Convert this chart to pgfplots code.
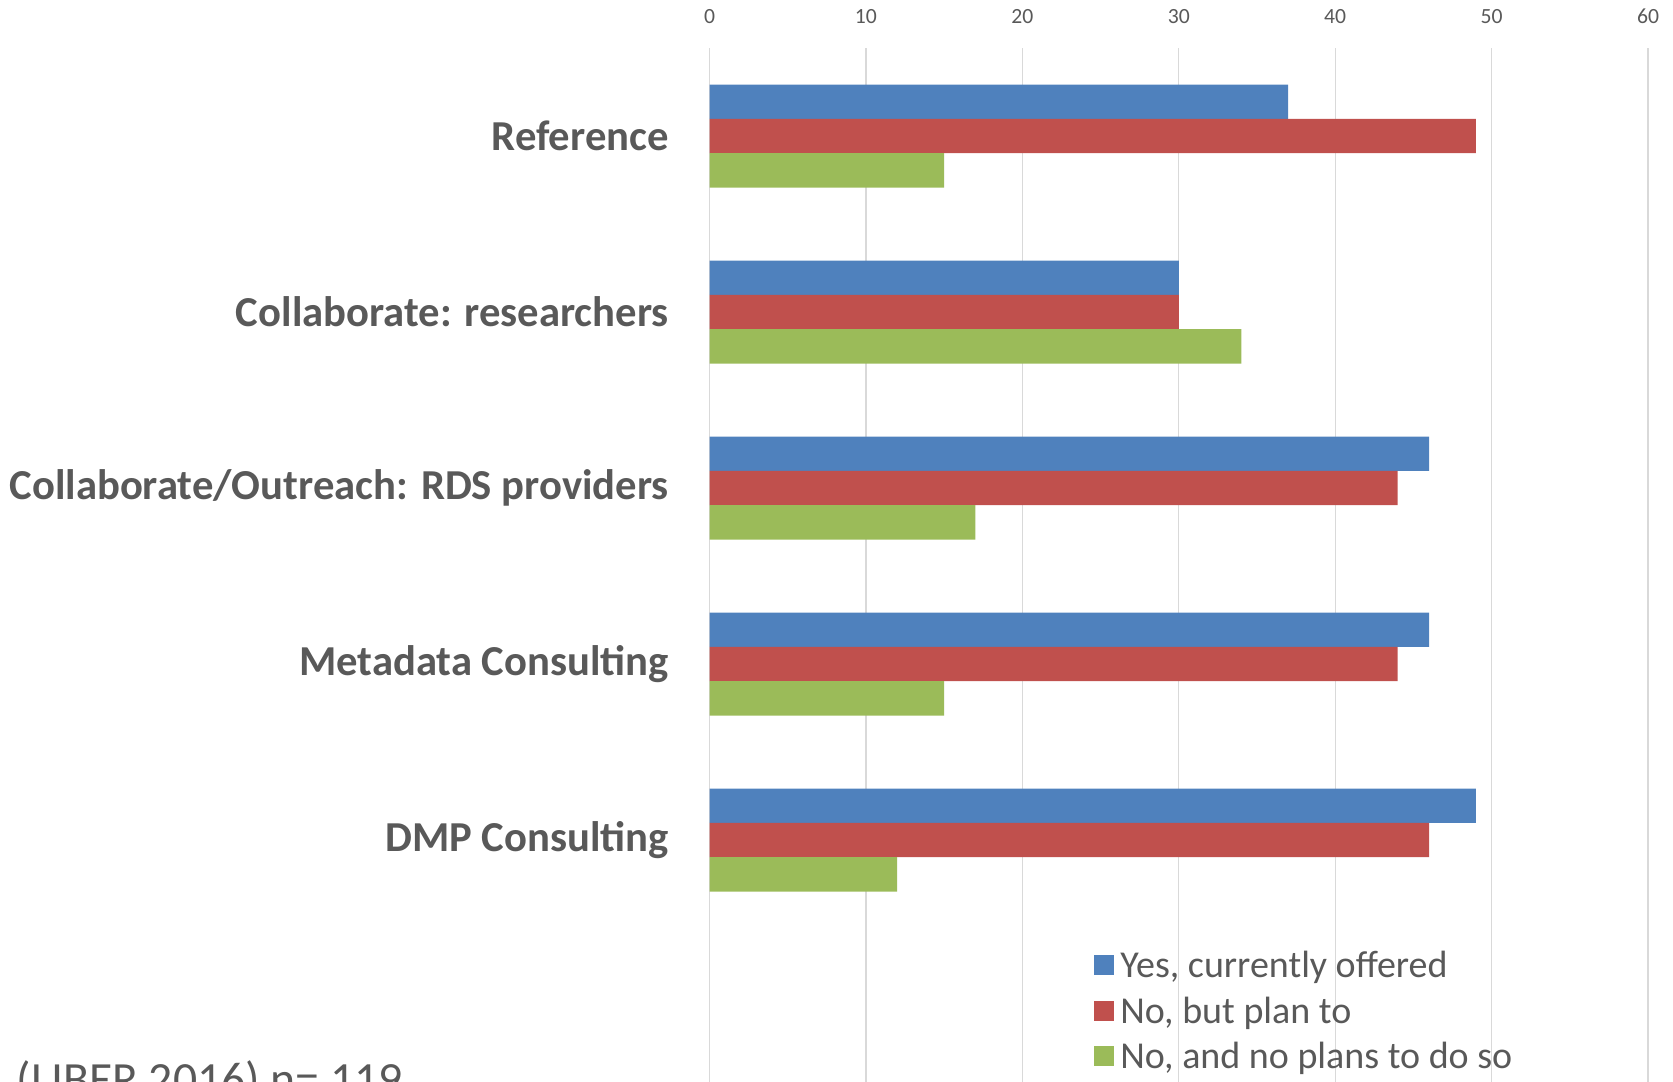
\documentclass[border=0pt]{standalone}
\usepackage{fontspec}
\setmainfont{Carlito}
\usepackage{pgfplots}
\pgfplotsset{compat=1.18}
\definecolor{cblue}{HTML}{4F81BD}
\definecolor{cred}{HTML}{C0504D}
\definecolor{cgreen}{HTML}{9BBB59}
\definecolor{txt}{HTML}{595959}
\definecolor{grid}{HTML}{D9D9D9}
\begin{document}
\begin{tikzpicture}
\useasboundingbox (0,0) rectangle (501.9pt,324.3pt);
\clip (0,0) rectangle (501.9pt,324.3pt);
\begin{axis}[
  at={(212.85pt,309.9pt)}, anchor=north west,
  scale only axis, width=281.55pt, height=316.8pt,
  xbar, bar width=10.3pt,
  xmin=0, xmax=60, ymin=-0.5, ymax=5.5,
  y dir=reverse,
  xtick={0,10,...,60},
  ytick={0,1,2,3,4},
  yticklabels={Reference,Collaborate: researchers,Collaborate/Outreach: RDS providers,Metadata Consulting,DMP Consulting},
  xticklabel pos=right,
  axis line style={draw=none},
  major tick length=0pt,
  xmajorgrids, ymajorgrids=false,
  grid style={draw=grid, line width=0.4pt},
  /pgf/number format/assume math mode=true,
  xticklabel style={font=\fontsize{6.5}{7}\selectfont, text=txt, anchor=base, inner sep=0pt, yshift=7.5pt},
  yticklabel style={font=\bfseries\fontsize{12.8}{15}\selectfont, text=txt, anchor=east, inner sep=0pt, xshift=-12pt},
  legend style={at={(0.4086,0.1515)}, anchor=north west, draw=none, fill=none, inner sep=0pt, row sep=0.2pt,
    font=\fontsize{11.4}{13}\selectfont, text=txt,
    /tikz/every even column/.append style={column sep=1pt}},
  legend cell align=left,
  legend image code/.code={\fill[#1] (0pt,-2.5pt) rectangle (6pt,3.5pt);},
]
\addplot[fill=cblue, draw=none, bar shift=10.3pt] coordinates {(37,0) (30,1) (46,2) (46,3) (49,4)};
\addplot[fill=cred, draw=none, bar shift=0pt] coordinates {(49,0) (30,1) (44,2) (44,3) (46,4)};
\addplot[fill=cgreen, draw=none, bar shift=-10.3pt] coordinates {(15,0) (34,1) (17,2) (15,3) (12,4)};
\legend{{Yes, currently offered},{No, but plan to},{No, and no plans to do so}}
\end{axis}
\node[anchor=base west, inner sep=0pt, text=txt, font=\fontsize{14.3}{16}\selectfont] at (4.8pt,-4.2pt) {(LIBER 2016) n= 119};
\end{tikzpicture}
\end{document}
